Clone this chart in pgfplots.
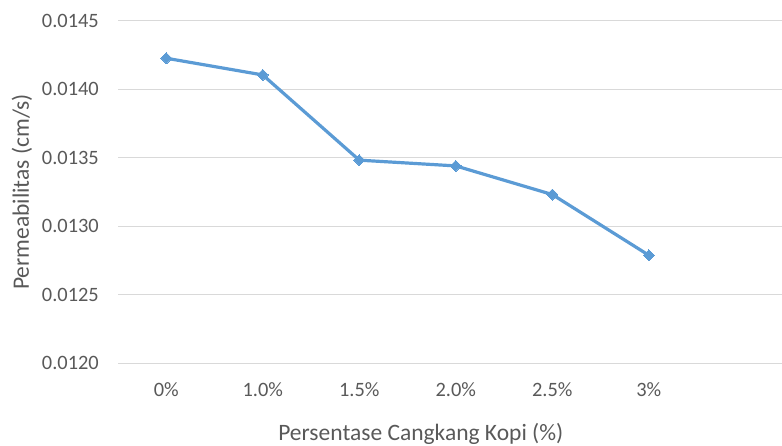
\documentclass[border=0pt]{standalone}
\usepackage{pgfplots}
\pgfplotsset{compat=1.18}
\usepackage{fontspec}
\setmainfont{Carlito}
\definecolor{linecol}{HTML}{5B9BD5}
\definecolor{gridcol}{HTML}{D9D9D9}
\definecolor{textcol}{HTML}{595959}
\begin{document}
\begin{tikzpicture}
\useasboundingbox (0pt,0pt) rectangle (782pt,446pt);
\begin{axis}[
  at={(118pt,82.8pt)}, anchor=south west,
  scale only axis, width=664pt, height=342.5pt,
  xmin=-0.5, xmax=6.38,
  ymin=0.0120, ymax=0.0145,
  ytick={0.0120,0.0125,0.0130,0.0135,0.0140,0.0145},
  xtick=data,
  xticklabels={0\%,1.0\%,1.5\%,2.0\%,2.5\%,3\%},
  scaled y ticks=false,
  /pgf/number format/fixed,
  /pgf/number format/fixed zerofill,
  /pgf/number format/precision=4,
  /pgf/number format/assume math mode=true,
  axis line style={draw=none},
  major tick length=0pt,
  ymajorgrids,
  grid style={gridcol, line width=1.2pt},
  tick label style={font=\fontsize{20.4}{24}\selectfont, text=textcol},
  xticklabel style={anchor=center, yshift=-26.8pt, inner sep=0pt},
  yticklabel style={anchor=east, xshift=-19pt, inner sep=0pt},
  label style={font=\fontsize{23.5}{28}\selectfont, text=textcol},
  xlabel={Persentase Cangkang Kopi (\%)},
  ylabel={Permeabilitas (cm/s)},
  xlabel style={at={(axis description cs:0.456,-0.2067)}, anchor=center, inner sep=0pt},
  ylabel style={at={(axis description cs:-0.1446,0.5)}, anchor=center, inner sep=0pt},
  clip=false,
]
\addplot[color=linecol, line width=3.2pt, mark=square*, mark size=3.9pt,
  mark options={rotate=45, solid, fill=linecol, line width=0pt}]
  coordinates {
    (0, 0.014226)
    (1, 0.014104)
    (2, 0.013482)
    (3, 0.013440)
    (4, 0.013231)
    (5, 0.012788)
  };
\end{axis}
\end{tikzpicture}
\end{document}
